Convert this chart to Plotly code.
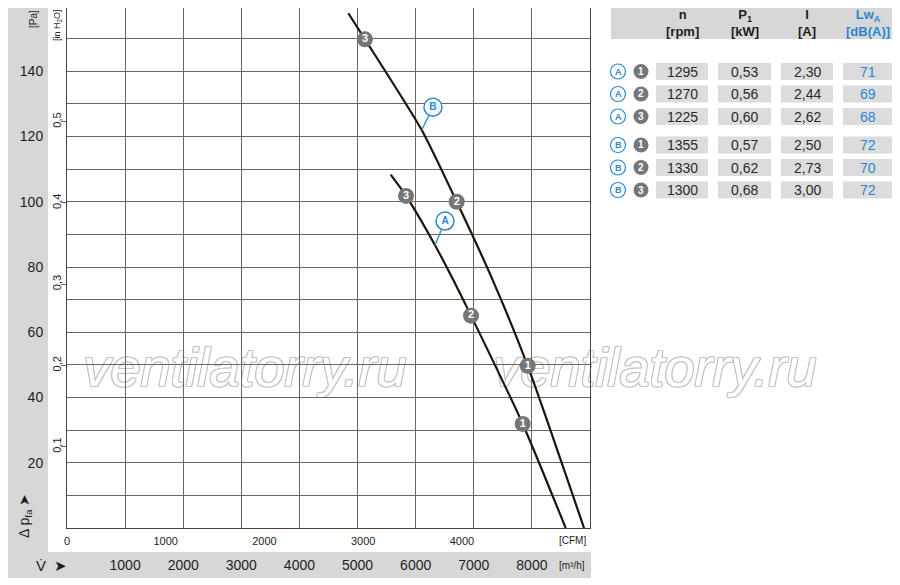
import plotly.graph_objects as go

# ---------------- data ----------------
# fan curves: volume flow [m³/h] vs static pressure [Pa]
curve_b_flow = [4841, 5128, 6104, 6706, 7326, 7928, 8897]
curve_b_pa = [157.8, 149.8, 122.0, 100.0, 76.0, 49.7, 0.0]
curve_a_flow = [5570, 5834, 6333, 6648, 6952, 7842, 8582]
curve_a_pa = [108.3, 101.8, 86.7, 76.0, 65.1, 31.9, 0.0]

# operating points
pts_a_flow = [7842, 6952, 5834]
pts_a_pa = [31.9, 65.1, 101.8]
pts_b_flow = [7928, 6706, 5128]
pts_b_pa = [49.7, 100.0, 149.8]
pts_labels = ["1", "2", "3"]

# curve labels (label position, and point on curve for the leader)
lab_names = ["A", "B"]
lab_flow = [6505, 6298]
lab_pa = [94.1, 129.0]
lab_touch_flow = [6333, 6104]
lab_touch_pa = [86.7, 122.0]

# axes
m3h_ticks = [1000, 2000, 3000, 4000, 5000, 6000, 7000, 8000]
cfm_ticks = [0, 1000, 2000, 3000, 4000]
pa_ticks = [20, 40, 60, 80, 100, 120, 140]
inh2o_ticks = [0.1, 0.2, 0.3, 0.4, 0.5]
inh2o_text = ["0,1", "0,2", "0,3", "0,4", "0,5"]
M3H_PER_CFM = 1.699
PA_PER_INH2O = 249.089
X_MAX = 9000
Y_MAX = 159.4

# table
tbl_group = ["A", "A", "A", "B", "B", "B"]
tbl_point = ["1", "2", "3", "1", "2", "3"]
tbl_rpm = ["1295", "1270", "1225", "1355", "1330", "1300"]
tbl_kw = ["0,53", "0,56", "0,60", "0,57", "0,62", "0,68"]
tbl_amp = ["2,30", "2,44", "2,62", "2,50", "2,73", "3,00"]
tbl_lwa = ["71", "69", "68", "72", "70", "72"]
tbl_head1 = ["n", "P<sub>1</sub>", "I", "Lw<sub>A</sub>"]
tbl_head2 = ["[rpm]", "[kW]", "[A]", "[dB(A)]"]

watermark = "ventilatorry.ru"

# ---------------- style ----------------
FONT = "Liberation Sans, Arial, sans-serif"
NARROW = "Liberation Sans Narrow, Liberation Sans, Arial, sans-serif"
GRID = "#6e655b"
FRAME = "#4a4139"
CURVE = "#1c140c"
PTGRAY = "#767676"
BLUE = "#2a86d0"
BAND = "#d7d7d7"
CELL = "#dcdcdc"
TXT = "#1e1e1e"

# page has an 8px body margin: figure is sized/offset to compensate
OFF = 8
W, H = 900 - OFF, 585 - OFF
PL, PR, PT, PB = 67, 590, 8, 528          # chart plot area in page pixels
L = PL - OFF
T = PT - OFF
B = H - (PB - OFF)
R = 0
PAPER_W = (W + OFF) - PL                  # paper spans page x 67..900
PH = PB - PT
CHART_FRAC = (PR - PL) / PAPER_W


def px(x):
    return (x - PL) / PAPER_W


def py(y):
    return (PB - y) / PH


fig = go.Figure()

# watermark on a full-width background subplot (page-pixel coordinates)
wm_c = "#c4c4c4"
wm_shadow = ",".join(f"{dx}px {dy}px 0 {wm_c}" for dx, dy in
                     [(1, 0), (-1, 0), (0, 1), (0, -1), (1, 1), (-1, -1), (1, -1), (-1, 1)])
fig.add_trace(go.Scatter(
    x=[245, 655], y=[372, 372], xaxis="x", yaxis="y", mode="text",
    text=[watermark, watermark], cliponaxis=False,
    textfont=dict(family=FONT, size=54, color="white", style="italic", shadow=wm_shadow),
    hoverinfo="skip", showlegend=False))

# curves
for fx, fy in [(curve_b_flow, curve_b_pa), (curve_a_flow, curve_a_pa)]:
    fig.add_trace(go.Scatter(x=fx, y=fy, xaxis="x2", yaxis="y2", mode="lines",
                             line=dict(color=CURVE, width=2.2, shape="spline", smoothing=0.6),
                             hoverinfo="skip", showlegend=False))

# leaders for curve labels
for i in range(len(lab_names)):
    fig.add_trace(go.Scatter(x=[lab_touch_flow[i], lab_flow[i]], y=[lab_touch_pa[i], lab_pa[i]],
                             xaxis="x2", yaxis="y2", mode="lines", line=dict(color=BLUE, width=1.3),
                             hoverinfo="skip", showlegend=False))

# operating points
for fx, fy in [(pts_a_flow, pts_a_pa), (pts_b_flow, pts_b_pa)]:
    fig.add_trace(go.Scatter(x=fx, y=fy, xaxis="x2", yaxis="y2", mode="markers+text", text=pts_labels,
                             textposition="middle center",
                             marker=dict(size=16, color=PTGRAY, line=dict(width=0)),
                             textfont=dict(family=FONT, size=11, color="white", weight="bold"),
                             hoverinfo="skip", showlegend=False))

# curve label circles
fig.add_trace(go.Scatter(x=lab_flow, y=lab_pa, xaxis="x2", yaxis="y2", mode="markers+text", text=lab_names,
                         textposition="middle center",
                         marker=dict(size=18, color="white", line=dict(width=1.5, color=BLUE)),
                         textfont=dict(family=FONT, size=10, color=BLUE, weight="bold"),
                         hoverinfo="skip", showlegend=False))

# dummy trace to anchor secondary (CFM / in H2O) axes
fig.add_trace(go.Scatter(x=[0], y=[0], xaxis="x3", yaxis="y3", mode="markers",
                         marker=dict(opacity=0), hoverinfo="skip", showlegend=False))

shapes = []
annots = []

# gray bands
shapes.append(dict(type="rect", xref="paper", yref="paper", x0=px(5), x1=px(48), y0=py(552), y1=py(5),
                   fillcolor=BAND, line=dict(width=0), layer="below"))
shapes.append(dict(type="rect", xref="paper", yref="paper", x0=px(5), x1=px(591), y0=py(578), y1=py(552),
                   fillcolor=BAND, line=dict(width=0), layer="below"))

# axis titles
annots += [
    dict(text="[Pa]", x=px(33), y=py(19), textangle=-90, font=dict(family=NARROW, size=10, color=TXT)),
    dict(text="[in H<sub>2</sub>O]", x=px(58), y=py(25), textangle=-90, font=dict(family=NARROW, size=9, color=TXT)),
    dict(text="Δ p<sub>fa</sub> ➤", x=px(25), y=py(516), textangle=-90, font=dict(family=FONT, size=14, color=TXT)),
    dict(text="V̇  ➤", x=px(51), y=py(565), font=dict(family=FONT, size=15, color=TXT)),
    dict(text="[CFM]", x=px(572), y=py(540), font=dict(family=NARROW, size=10, color=TXT)),
    dict(text="[m³/h]", x=px(572), y=py(565), font=dict(family=NARROW, size=10, color=TXT)),
]

# table
col_x0 = [656, 718, 781, 843]
col_x1 = [708, 771, 833, 893]
row_y = [71.5, 94, 116.5, 145, 167.5, 190]
shapes.append(dict(type="rect", xref="paper", yref="paper", x0=px(611), x1=px(893), y0=py(39), y1=py(6),
                   fillcolor=BAND, line=dict(width=0), layer="below"))
for j in range(4):
    cx = (col_x0[j] + col_x1[j]) / 2
    col = BLUE if j == 3 else TXT
    annots.append(dict(text=tbl_head1[j] + "<br>" + tbl_head2[j], x=px(cx), y=py(23),
                       font=dict(family=FONT, size=13, color=col, weight="bold")))

cols = [tbl_rpm, tbl_kw, tbl_amp, tbl_lwa]
for i, yy in enumerate(row_y):
    for j in range(4):
        shapes.append(dict(type="rect", xref="paper", yref="paper", x0=px(col_x0[j]), x1=px(col_x1[j]),
                           y0=py(yy + 8.5), y1=py(yy - 8.5), fillcolor=CELL, line=dict(width=0), layer="below"))
        cx = (col_x0[j] + col_x1[j]) / 2
        annots.append(dict(text=cols[j][i], x=px(cx), y=py(yy),
                           font=dict(family=FONT, size=14, color=BLUE if j == 3 else "#2a2a2a")))
    r = 7.5
    shapes.append(dict(type="circle", xref="paper", yref="paper", x0=px(618 - r), x1=px(618 + r),
                       y0=py(yy + r), y1=py(yy - r), fillcolor="white", line=dict(color=BLUE, width=1.2)))
    annots.append(dict(text=tbl_group[i], x=px(618), y=py(yy), font=dict(family=FONT, size=9, color=BLUE, weight="bold")))
    shapes.append(dict(type="circle", xref="paper", yref="paper", x0=px(641 - r), x1=px(641 + r),
                       y0=py(yy + r), y1=py(yy - r), fillcolor=PTGRAY, line=dict(width=0)))
    annots.append(dict(text=tbl_point[i], x=px(641), y=py(yy), font=dict(family=FONT, size=10, color="white", weight="bold")))

for a in annots:
    a.update(xref="paper", yref="paper", showarrow=False, xanchor="center")
    a.setdefault("yanchor", "middle")

fig.update_layout(
    width=W, height=H,
    margin=dict(l=L, r=R, t=T, b=B, pad=0),
    paper_bgcolor="white", plot_bgcolor="rgba(0,0,0,0)",
    showlegend=False,
    shapes=shapes, annotations=annots,
    # background subplot in page pixels (for the watermark)
    xaxis=dict(domain=[0, 1], range=[PL, W + OFF], visible=False, fixedrange=True),
    yaxis=dict(domain=[0, 1], range=[PB, PT], visible=False, fixedrange=True),
    # chart axes
    xaxis2=dict(domain=[0, CHART_FRAC], anchor="y2", range=[0, X_MAX], tickvals=m3h_ticks,
                showgrid=True, gridcolor=GRID, gridwidth=1,
                ticks="outside", ticklen=24, tickcolor="rgba(0,0,0,0)",
                tickfont=dict(family=FONT, size=14, color=TXT),
                minor=dict(tickvals=[0, 9000], showgrid=True, gridcolor=GRID, ticks=""),
                showline=True, linecolor=FRAME, linewidth=1, mirror=True, zeroline=False, fixedrange=True),
    yaxis2=dict(domain=[0, 1], anchor="x2", range=[0, Y_MAX], tickvals=pa_ticks,
                showgrid=True, gridcolor=GRID, gridwidth=1,
                zeroline=False, ticks="outside", ticklen=20, tickcolor="rgba(0,0,0,0)",
                tickfont=dict(family=FONT, size=14, color=TXT),
                minor=dict(dtick=10, tick0=0, showgrid=True, gridcolor=GRID, gridwidth=1, ticks=""),
                showline=True, linecolor=FRAME, linewidth=1, mirror=True, fixedrange=True),
    xaxis3=dict(range=[0, X_MAX / M3H_PER_CFM], overlaying="x2", side="bottom", anchor="y2",
                tickvals=cfm_ticks, showgrid=False, ticks="outside", ticklen=3, tickcolor="rgba(0,0,0,0)",
                tickfont=dict(family=NARROW, size=11, color=TXT), showline=False, zeroline=False),
    yaxis3=dict(range=[0, Y_MAX / PA_PER_INH2O], overlaying="y2", side="left", anchor="x2",
                tickvals=inh2o_ticks, ticktext=inh2o_text, tickangle=-90,
                ticks="outside", ticklen=5, tickcolor=GRID, showgrid=False, zeroline=False,
                ticklabelstandoff=-4,
                tickfont=dict(family=NARROW, size=11, color=TXT), showline=False),
)

fig.write_html("out.html")
